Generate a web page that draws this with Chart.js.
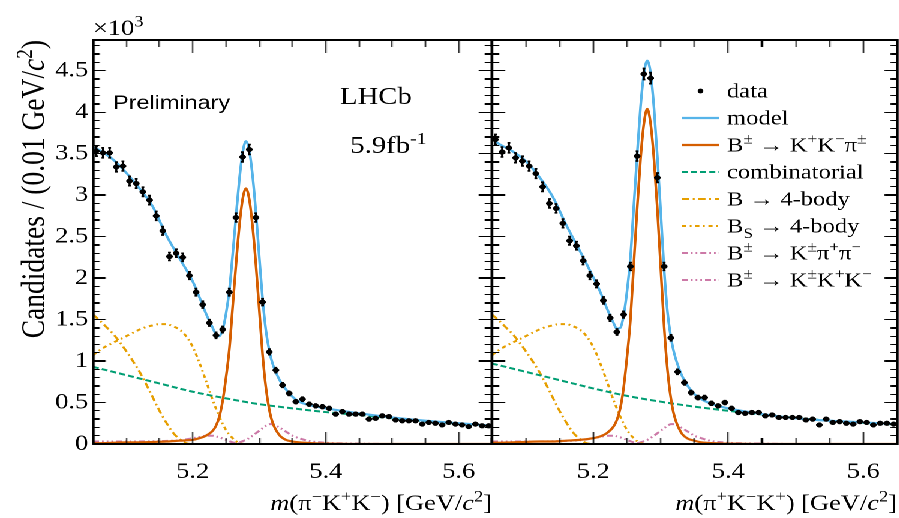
<!DOCTYPE html>
<html>
<head>
<meta charset="utf-8">
<script src="https://cdn.jsdelivr.net/npm/chart.js@4.4.1/dist/chart.umd.min.js"></script>
<style>
  html, body { margin: 0; padding: 0; background: #fff; overflow: hidden; }
  /* the figure is laid out narrow and then widened horizontally */
  #stage { position: relative; width: 750px; height: 518px; transform: scaleX(1.2); transform-origin: 0 0; }
  #stage canvas { position: absolute; top: 0; }
  .frame { position: absolute; box-sizing: border-box; border: 2px solid #000; pointer-events: none; }
  .tick { position: absolute; background: #000; pointer-events: none; }
</style>
</head>
<body>
<div id="stage">
  <canvas id="panelMinus" width="412" height="518" style="left:0"></canvas>
  <canvas id="panelPlus" width="346" height="518" style="left:404px"></canvas>
</div>
<script>
const STRETCH = 1.2;
const DPR = 2;

// histogram bin centres, 0.01 GeV/c^2 bins
const binCentres = [5.055, 5.065, 5.075, 5.085, 5.095, 5.105, 5.115, 5.125, 5.135, 5.145,
  5.155, 5.165, 5.175, 5.185, 5.195, 5.205, 5.215, 5.225, 5.235, 5.245,
  5.255, 5.265, 5.275, 5.285, 5.295, 5.305, 5.315, 5.325, 5.335, 5.345,
  5.355, 5.365, 5.375, 5.385, 5.395, 5.405, 5.415, 5.425, 5.435, 5.445,
  5.455, 5.465, 5.475, 5.485, 5.495, 5.505, 5.515, 5.525, 5.535, 5.545,
  5.555, 5.565, 5.575, 5.585, 5.595, 5.605, 5.615, 5.625, 5.635, 5.645];

// candidates per bin (x10^3), pi- K+ K- sample
const countsMinus = [3.53, 3.51, 3.51, 3.34, 3.35, 3.17, 3.14, 3.04, 2.94, 2.75,
  2.57, 2.26, 2.30, 2.25, 2.03, 1.83, 1.68, 1.46, 1.31, 1.38,
  1.83, 2.73, 3.46, 3.55, 2.73, 1.71, 1.11, 0.89, 0.71, 0.61,
  0.51, 0.54, 0.48, 0.46, 0.45, 0.43, 0.36, 0.39, 0.36, 0.36,
  0.36, 0.30, 0.31, 0.34, 0.33, 0.29, 0.28, 0.28, 0.28, 0.24,
  0.26, 0.25, 0.23, 0.26, 0.24, 0.23, 0.21, 0.24, 0.22, 0.22];

// candidates per bin (x10^3), pi+ K- K+ sample
const countsPlus = [3.67, 3.52, 3.57, 3.45, 3.41, 3.35, 3.26, 3.10, 2.90, 2.84,
  2.66, 2.45, 2.39, 2.21, 2.03, 1.93, 1.73, 1.52, 1.35, 1.56,
  2.14, 3.47, 4.46, 4.41, 3.21, 2.14, 1.28, 0.87, 0.74, 0.62,
  0.56, 0.56, 0.49, 0.46, 0.50, 0.43, 0.38, 0.37, 0.38, 0.38,
  0.34, 0.35, 0.32, 0.32, 0.32, 0.32, 0.29, 0.30, 0.23, 0.30,
  0.26, 0.27, 0.25, 0.24, 0.27, 0.26, 0.23, 0.25, 0.25, 0.24];

// fit curves: total model and signal, sampled densely round the peak
const peakGrid = [5.05, 5.06, 5.08, 5.10, 5.12, 5.14, 5.16, 5.18, 5.20, 5.21,
  5.22, 5.23, 5.235, 5.24, 5.245, 5.25, 5.255, 5.26, 5.265, 5.27,
  5.275, 5.28, 5.285, 5.29, 5.295, 5.30, 5.305, 5.31, 5.315, 5.32,
  5.33, 5.34, 5.35, 5.36, 5.38, 5.40, 5.45, 5.50, 5.55, 5.60, 5.65];
const modelMinus = [3.58, 3.54, 3.43, 3.27, 3.08, 2.86, 2.52, 2.24, 1.96, 1.77,
  1.57, 1.40, 1.32, 1.30, 1.38, 1.57, 1.85, 2.28, 2.74, 3.18,
  3.51, 3.65, 3.54, 3.23, 2.79, 2.26, 1.75, 1.37, 1.13, 0.97,
  0.78, 0.66, 0.57, 0.51, 0.46, 0.43, 0.37, 0.32, 0.28, 0.25, 0.22];
const signalMinus = [0.01, 0.01, 0.015, 0.02, 0.02, 0.025, 0.03, 0.04, 0.05, 0.07,
  0.10, 0.16, 0.22, 0.33, 0.52, 0.80, 1.14, 1.65, 2.16, 2.62,
  2.95, 3.08, 2.95, 2.62, 2.16, 1.62, 1.08, 0.68, 0.42, 0.26,
  0.11, 0.05, 0.03, 0.02, 0.01, 0.005, 0, 0, 0, 0, 0];
const modelPlus = [3.68, 3.62, 3.53, 3.41, 3.22, 2.98, 2.64, 2.33, 2.01, 1.84,
  1.64, 1.46, 1.39, 1.40, 1.55, 1.84, 2.24, 2.86, 3.48, 4.06,
  4.46, 4.62, 4.47, 4.05, 3.46, 2.79, 2.10, 1.59, 1.29, 1.09,
  0.85, 0.70, 0.60, 0.54, 0.47, 0.43, 0.36, 0.31, 0.28, 0.26, 0.24];
const signalPlus = [0.015, 0.015, 0.02, 0.025, 0.03, 0.03, 0.04, 0.05, 0.07, 0.09,
  0.13, 0.21, 0.29, 0.43, 0.68, 1.05, 1.49, 2.16, 2.83, 3.43,
  3.86, 4.04, 3.86, 3.43, 2.83, 2.12, 1.41, 0.89, 0.55, 0.34,
  0.14, 0.065, 0.04, 0.02, 0.01, 0.005, 0, 0, 0, 0, 0];

// combinatorial background
const combGrid = [5.05, 5.10, 5.15, 5.20, 5.25, 5.30, 5.35, 5.40, 5.45, 5.50, 5.55, 5.60, 5.65];
const combMinus = [0.93, 0.83, 0.73, 0.63, 0.55, 0.48, 0.43, 0.385, 0.35, 0.31, 0.275, 0.245, 0.22];
const combPlus = [0.97, 0.87, 0.77, 0.67, 0.58, 0.51, 0.45, 0.40, 0.355, 0.315, 0.28, 0.255, 0.235];

// partially reconstructed 4-body backgrounds
const bFourGrid = [5.05, 5.06, 5.07, 5.08, 5.09, 5.10, 5.11, 5.12, 5.13, 5.14, 5.15, 5.16, 5.17, 5.18, 5.19, 5.20, 5.65];
const bFourBody = [1.56, 1.49, 1.41, 1.33, 1.23, 1.12, 1.00, 0.87, 0.72, 0.56, 0.40, 0.26, 0.14, 0.06, 0.01, 0, 0];
const bsFourGrid = [5.05, 5.06, 5.07, 5.08, 5.09, 5.10, 5.11, 5.12, 5.13, 5.14, 5.15, 5.16,
  5.17, 5.18, 5.19, 5.20, 5.21, 5.22, 5.23, 5.24, 5.25, 5.26, 5.27, 5.28, 5.65];
const bsFourBody = [1.07, 1.13, 1.18, 1.22, 1.26, 1.30, 1.34, 1.38, 1.41, 1.43, 1.445, 1.445,
  1.42, 1.38, 1.30, 1.17, 0.98, 0.76, 0.53, 0.33, 0.17, 0.07, 0.01, 0, 0];

// misidentified charmless backgrounds
const kpipiGrid = [5.05, 5.26, 5.27, 5.28, 5.29, 5.30, 5.31, 5.315, 5.32, 5.33, 5.34, 5.35, 5.36, 5.37, 5.38, 5.40, 5.45, 5.50, 5.65];
const bToKPiPi = [0, 0, 0.02, 0.05, 0.10, 0.16, 0.22, 0.24, 0.24, 0.20, 0.15, 0.10, 0.07, 0.045, 0.03, 0.015, 0.005, 0, 0];
const kkkGrid = [5.05, 5.10, 5.15, 5.18, 5.20, 5.21, 5.22, 5.23, 5.24, 5.25, 5.26, 5.27, 5.28, 5.65];
const bToKKK = [0.03, 0.03, 0.035, 0.045, 0.07, 0.085, 0.10, 0.10, 0.08, 0.05, 0.02, 0.005, 0, 0];

// axis ticks
const xTickLabels = [5.2, 5.4, 5.6];
const yTickLabels = [0, 0.5, 1, 1.5, 2, 2.5, 3, 3.5, 4, 4.5];

// legend text, [text, kind] pieces, kind = sup | sub | it
const legendLabels = [
  [['data']],
  [['model']],
  [['B'], ['±', 'sup'], [' → K'], ['+', 'sup'], ['K'], ['−', 'sup'], ['π'], ['±', 'sup']],
  [['combinatorial']],
  [['B → 4-body']],
  [['B'], ['S', 'sub'], [' → 4-body']],
  [['B'], ['±', 'sup'], [' → K'], ['±', 'sup'], ['π'], ['+', 'sup'], ['π'], ['−', 'sup']],
  [['B'], ['±', 'sup'], [' → K'], ['±', 'sup'], ['K'], ['+', 'sup'], ['K'], ['−', 'sup']]
];

const colors = {
  model: '#56B4E9',
  signal: '#D55E00',
  comb: '#009E73',
  fourBody: '#E69F00',
  misid: '#CC79A7'
};

const SERIF = '"Liberation Serif", "Times New Roman", serif';
const FRAME = { display: true, color: '#000', width: 1.7, z: 1 };

function pts(xs, ys) {
  return xs.map((x, i) => ({ x: x, y: ys[i] }));
}

function curve(label, xs, ys, color, dash, width) {
  return {
    label: label,
    data: pts(xs, ys),
    showLine: true,
    borderColor: color,
    borderWidth: width || 2,
    borderDash: dash,
    pointRadius: 0,
    cubicInterpolationMode: 'monotone',
    fill: false
  };
}

// text with super/subscripts and italics, laid out piece by piece
function drawRich(ctx, parts, x, y, size, align) {
  const fontFor = k => (k === 'it' ? 'italic ' : '') +
    ((k === 'sup' || k === 'sub') ? size * 0.7 : size) + 'px ' + SERIF;
  let w = 0;
  parts.forEach(([t, k]) => { ctx.font = fontFor(k); w += ctx.measureText(t).width; });
  let cx = align === 'right' ? x - w : x;
  parts.forEach(([t, k]) => {
    ctx.font = fontFor(k);
    const dy = k === 'sup' ? -size * 0.38 : (k === 'sub' ? size * 0.28 : 0);
    ctx.fillText(t, cx, y + dy);
    cx += ctx.measureText(t).width;
  });
}

// Poisson error bars and bin-width bars on the data points
const errorBarPlugin = {
  id: 'errorBars',
  afterDatasetsDraw(chart) {
    const ctx = chart.ctx;
    const x = chart.scales.x, y = chart.scales.y;
    const points = chart.data.datasets[0].data;
    ctx.save();
    ctx.strokeStyle = '#000';
    ctx.lineWidth = 1.7;
    ctx.beginPath();
    points.forEach(p => {
      const err = Math.sqrt(p.y * 1000) / 1000;
      const px = x.getPixelForValue(p.x);
      const py = y.getPixelForValue(p.y);
      const yLo = y.getPixelForValue(p.y - err);
      const yHi = y.getPixelForValue(p.y + err);
      ctx.moveTo(x.getPixelForValue(p.x - 0.005), py);
      ctx.lineTo(x.getPixelForValue(p.x + 0.005), py);
      ctx.moveTo(px, yLo); ctx.lineTo(px, yHi);
      ctx.moveTo(px - 1.2, yLo); ctx.lineTo(px + 1.2, yLo);
      ctx.moveTo(px - 1.2, yHi); ctx.lineTo(px + 1.2, yHi);
    });
    ctx.stroke();
    ctx.restore();
  }
};

// box and inward major/minor ticks, placed from the chart's own scales
function addFrame(chart, offsetLeft) {
  const stage = document.getElementById('stage');
  const a = chart.chartArea;
  const xs = chart.scales.x, ys = chart.scales.y;
  const box = document.createElement('div');
  box.className = 'frame';
  box.style.left = (offsetLeft + a.left - 1) + 'px';
  box.style.top = (a.top - 1) + 'px';
  box.style.width = (a.right - a.left + 2) + 'px';
  box.style.height = (a.bottom - a.top + 2) + 'px';
  stage.appendChild(box);

  const mark = (x, y, w, h) => {
    const d = document.createElement('div');
    d.className = 'tick';
    d.style.left = (offsetLeft + x) + 'px';
    d.style.top = y + 'px';
    d.style.width = w + 'px';
    d.style.height = h + 'px';
    stage.appendChild(d);
  };
  const tw = 1.3 / STRETCH, th = 1.3;
  for (let i = 0; i <= 12; i++) {
    const v = 5.05 + i * 0.05;
    const px = xs.getPixelForValue(v);
    const major = xTickLabels.some(t => Math.abs(t - v) < 1e-6);
    const len = major ? 12.5 : 6.5;
    mark(px - tw / 2, a.bottom - len, tw, len);
    mark(px - tw / 2, a.top, tw, len);
  }
  for (let i = 0; i <= 48; i++) {
    const py = ys.getPixelForValue(i * 0.1);
    const len = (i % 5 === 0 ? 13 : 7) / STRETCH;
    mark(a.left, py - th / 2, len, th);
    mark(a.right - len, py - th / 2, len, th);
  }
}

function axisTitle(parts) {
  return {
    id: 'axisTitle',
    afterDraw(chart) {
      const { ctx, chartArea: a } = chart;
      ctx.save();
      ctx.fillStyle = '#000';
      drawRich(ctx, parts, a.right, 510, 22, 'right');
      ctx.restore();
    }
  };
}

const leftTextPlugin = {
  id: 'leftText',
  afterDraw(chart) {
    const { ctx, chartArea: a } = chart;
    ctx.save();
    ctx.fillStyle = '#000';
    drawRich(ctx, [['×10'], ['3', 'sup']], a.left, 35, 22);
    ctx.font = '19.5px "Liberation Sans", Arial, sans-serif';
    ctx.fillText('Preliminary', 94.2, 109);
    ctx.font = '24px ' + SERIF;
    ctx.fillText('LHCb', 283.3, 104);
    drawRich(ctx, [['5.9fb'], ['-1', 'sup']], 291.7, 153, 24);
    ctx.translate(36.7, a.top);
    ctx.rotate(-Math.PI / 2);
    drawRich(ctx, [['Candidates / (0.01 GeV/'], ['c', 'it'], ['2', 'sup'], [')']], 0, 0, 27.5, 'right');
    ctx.restore();
  }
};

const legendPlugin = {
  id: 'richLegend',
  afterDraw(chart) {
    const { ctx, chartArea: a } = chart;
    ctx.save();
    chart.data.datasets.forEach((ds, i) => {
      const yRow = 91 + 27 * i;
      const x0 = a.left + 158.3, x1 = a.left + 189.2;
      if (i === 0) {
        ctx.fillStyle = '#000';
        ctx.beginPath();
        ctx.arc((x0 + x1) / 2, yRow, 2.4, 0, Math.PI * 2);
        ctx.fill();
      } else {
        ctx.strokeStyle = ds.borderColor;
        ctx.lineWidth = ds.borderWidth;
        ctx.setLineDash(ds.borderDash || []);
        ctx.beginPath();
        ctx.moveTo(x0, yRow); ctx.lineTo(x1, yRow);
        ctx.stroke();
        ctx.setLineDash([]);
      }
      ctx.fillStyle = '#000';
      drawRich(ctx, legendLabels[i], a.left + 195.8, yRow + 6.5, 20.5);
    });
    ctx.restore();
  }
};

// bare axis that only contributes one side of the frame
function frameAxis(position) {
  const horizontal = position === 'top';
  return {
    type: 'linear',
    position: position,
    min: horizontal ? 5.05 : 0,
    max: horizontal ? 5.65 : 4.87,
    grid: { display: false, drawTicks: false },
    ticks: { display: false },
    border: FRAME,
    afterFit: s => { if (horizontal) { s.height = 0; } else { s.width = 0; } }
  };
}

function panelConfig(counts, model, signal, comb, opts) {
  return {
    type: 'scatter',
    data: {
      datasets: [
        {
          label: 'data',
          data: pts(binCentres, counts),
          pointRadius: 2.6,
          pointBackgroundColor: '#000',
          pointBorderWidth: 0,
          showLine: false
        },
        curve('model', peakGrid, model, colors.model, [], 2.2),
        curve('signal', peakGrid, signal, colors.signal, [], 2.2),
        curve('combinatorial', combGrid, comb, colors.comb, [5, 2.6]),
        curve('B 4-body', bFourGrid, bFourBody, colors.fourBody, [6, 3, 1.6, 3]),
        curve('Bs 4-body', bsFourGrid, bsFourBody, colors.fourBody, [3.5, 3, 1.5, 3]),
        curve('K pi pi', kpipiGrid, bToKPiPi, colors.misid, [5, 2.5, 1.4, 2.5, 1.4, 2.5]),
        curve('K K K', kkkGrid, bToKKK, colors.misid, [5, 2.5, 1.4, 2.5, 1.4, 2.5, 1.4, 2.5])
      ]
    },
    options: {
      responsive: false,
      animation: false,
      devicePixelRatio: DPR,
      layout: { autoPadding: false, padding: { top: 40, bottom: 0, left: opts.padLeft, right: opts.padRight } },
      plugins: { legend: { display: false }, tooltip: { enabled: false } },
      scales: {
        x: {
          type: 'linear',
          position: 'bottom',
          min: 5.05,
          max: 5.65,
          grid: { display: false, drawTicks: false },
          border: FRAME,
          afterBuildTicks: s => { s.ticks = xTickLabels.map(v => ({ value: v })); },
          afterFit: s => { s.height = 74; },
          ticks: {
            font: { family: SERIF, size: 22 },
            color: '#000',
            padding: 15,
            maxRotation: 0,
            autoSkip: false,
            callback: v => v.toFixed(1)
          }
        },
        y: {
          type: 'linear',
          position: 'left',
          min: 0,
          max: 4.87,
          grid: { display: false, drawTicks: false },
          border: FRAME,
          afterBuildTicks: s => { s.ticks = yTickLabels.map(v => ({ value: v })); },
          afterFit: s => { s.width = opts.yWidth; },
          ticks: {
            display: opts.showY,
            font: { family: SERIF, size: 22 },
            color: '#000',
            padding: 4,
            callback: v => String(v)
          }
        },
        xTop: frameAxis('top'),
        yRight: frameAxis('right')
      }
    },
    plugins: opts.plugins
  };
}

const chartMinus = new Chart(document.getElementById('panelMinus'),
  panelConfig(countsMinus, modelMinus, signalMinus, combMinus, {
    padLeft: 0, padRight: 2, showY: true, yWidth: 77.5,
    plugins: [errorBarPlugin, leftTextPlugin,
      axisTitle([['m', 'it'], ['(π'], ['−', 'sup'], ['K'], ['+', 'sup'], ['K'], ['−', 'sup'], [') [GeV/'], ['c', 'it'], ['2', 'sup'], [']']])]
  }));

const chartPlus = new Chart(document.getElementById('panelPlus'),
  panelConfig(countsPlus, modelPlus, signalPlus, combPlus, {
    padLeft: 6, padRight: 2.5, showY: false, yWidth: 0,
    plugins: [errorBarPlugin, legendPlugin,
      axisTitle([['m', 'it'], ['(π'], ['+', 'sup'], ['K'], ['−', 'sup'], ['K'], ['+', 'sup'], [') [GeV/'], ['c', 'it'], ['2', 'sup'], [']']])]
  }));

addFrame(chartMinus, 0);
addFrame(chartPlus, 404);
</script>
</body>
</html>
